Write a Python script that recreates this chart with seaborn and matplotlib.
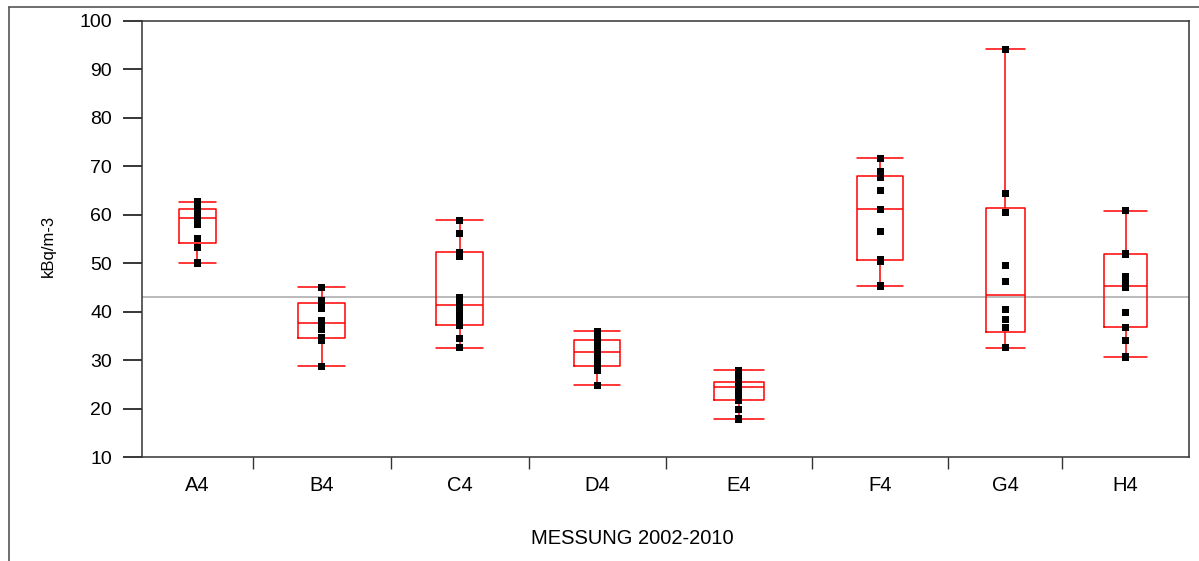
import numpy as np
import pandas as pd
import seaborn as sns
import matplotlib.pyplot as plt
import matplotlib.cbook as cbook
from matplotlib.lines import Line2D

# --- data (kBq/m-3) ---
groups = ["A4", "B4", "C4", "D4", "E4", "F4", "G4", "H4"]
a4 = [62.7, 61.5, 60.9, 60.4, 59.3, 58.0, 55.1, 53.2, 50.05]
b4 = [45.0, 42.3, 41.7, 40.6, 38.1, 37.1, 36.3, 34.7, 34.0, 28.7]
c4 = [58.9, 56.2, 52.3, 51.3, 43.0, 41.45, 40.3, 38.85, 37.25, 34.5, 32.6]
d4 = [36.0, 34.7, 33.9, 33.3, 32.25, 31.25, 30.1, 29.0, 27.8, 24.8]
e4 = [27.9, 26.6, 25.55, 25.3, 24.9, 24.4, 23.5, 22.5, 21.7, 19.8, 17.85]
f4 = [71.7, 69.0, 67.8, 65.0, 61.15, 61.05, 56.6, 50.8, 50.4, 45.3]
g4 = [94.2, 64.35, 60.5, 49.6, 46.2, 40.5, 38.4, 36.8, 32.6, 32.6]
h4 = [60.85, 52.1, 51.85, 47.3, 45.9, 45.3, 45.0, 39.9, 36.8, 34.1, 30.65]
values = [a4, b4, c4, d4, e4, f4, g4, h4]
ref_level = 43.0

# relative widths of the category bands (proportional x axis)
band = [111, 138, 138, 137, 147, 136, 114, 127]

edges = np.concatenate([[0], np.cumsum(band)])
centers = (edges[:-1] + edges[1:]) / 2

# the source program puts quartiles at rank p*(n+1) ("weibull" in numpy)
_boxplot_stats = cbook.boxplot_stats


def jmp_boxplot_stats(X, *args, **kwargs):
    stats = _boxplot_stats(X, *args, **kwargs)
    for st, x in zip(stats, X):
        st["q1"], st["med"], st["q3"] = np.percentile(x, [25, 50, 75], method="weibull")
    return stats


cbook.boxplot_stats = jmp_boxplot_stats

sns.set_style("white", {"xtick.bottom": True, "ytick.left": True})
plt.rcParams["font.family"] = ["Liberation Sans", "DejaVu Sans"]
plt.rcParams.update({"text.color": "black", "axes.labelcolor": "black",
                     "xtick.color": "black", "ytick.color": "black"})

fig = plt.figure(figsize=(11.99, 5.61), dpi=100)
ax = fig.add_axes([142 / 1199, 1 - 457 / 561, (1189 - 142) / 1199, (457 - 21) / 561])

ax.axhline(ref_level, color="#a8a8a8", lw=1.1, zorder=1)

for pos, w, vals in zip(centers, band, values):
    sns.boxplot(x=np.full(len(vals), pos), y=vals, native_scale=True, orient="x",
                width=0.34 * w, fill=False, color="red", linewidth=1.1,
                whis=(0, 100), showfliers=False, capwidths=0.34 * w, ax=ax)

pts = pd.DataFrame({
    "pos": np.concatenate([np.full(len(v), c) for c, v in zip(centers, values)]),
    "val": np.concatenate(values),
})
sns.scatterplot(data=pts, x="pos", y="val", marker="s", color="black",
                s=26, edgecolor="none", zorder=3, ax=ax)

ax.set_xlim(0, edges[-1])
ax.set_ylim(10, 100)
ax.set_yticks(range(10, 101, 10))
ax.tick_params(axis="y", left=True, length=13.5, width=1.1, pad=8, labelsize=14)

ax.set_xticks(edges[1:-1])
ax.set_xticklabels([])
ax.set_xticks(centers, minor=True)
ax.set_xticklabels(groups, minor=True)
ax.tick_params(axis="x", which="major", bottom=True, length=8.5, width=1, color="#333333")
ax.tick_params(axis="x", which="minor", bottom=True, length=0, pad=14, labelsize=14.5)

for s in ax.spines.values():
    s.set_color("#333333")
    s.set_linewidth(1.1)

ax.set_xlabel("MESSUNG 2002-2010", fontsize=14.5)
ax.xaxis.set_label_coords(0.468, -0.165)
ax.set_ylabel("kBq/m-3", fontsize=12)
ax.yaxis.set_label_coords(-0.082, 0.485)

# outer frame of the picture
fig.add_artist(Line2D([9 / 1199, 1], [1 - 7 / 561] * 2, transform=fig.transFigure, color="#555555", lw=1.2))
fig.add_artist(Line2D([9 / 1199] * 2, [0, 1 - 7 / 561], transform=fig.transFigure, color="#555555", lw=1.2))

fig.savefig("out.png", dpi=100)
